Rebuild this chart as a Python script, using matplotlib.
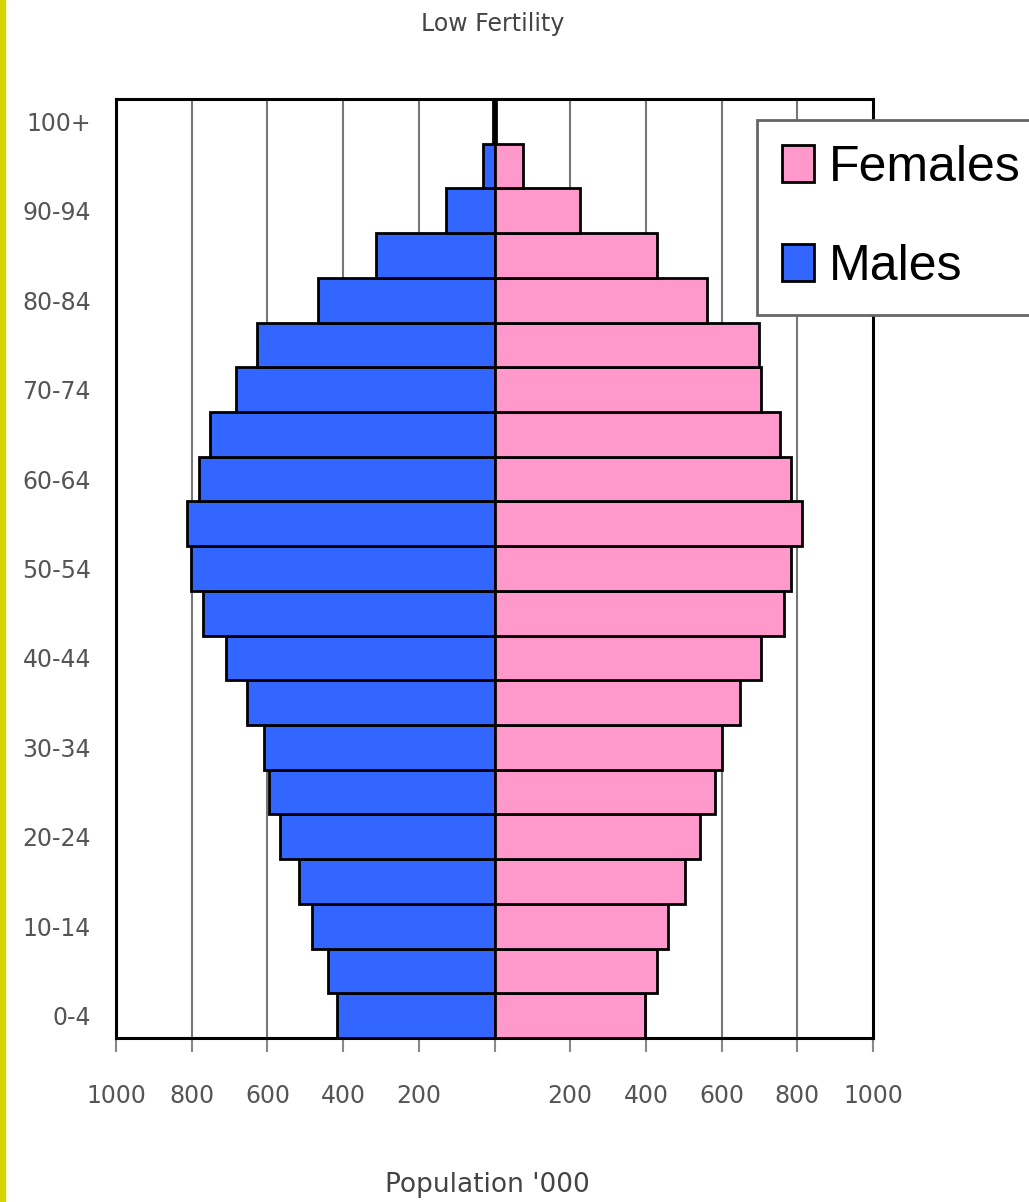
import matplotlib
matplotlib.use("Agg")
import matplotlib.pyplot as plt
from matplotlib.patches import Rectangle, Patch

# age groups, bottom to top
ages = ["0-4", "5-9", "10-14", "15-19", "20-24", "25-29", "30-34", "35-39",
        "40-44", "45-49", "50-54", "55-59", "60-64", "65-69", "70-74",
        "75-79", "80-84", "85-89", "90-94", "95-99", "100+"]

# population in thousands
males = [415, 441, 483, 516, 567, 596, 609, 653, 710, 769, 801, 813,
         781, 752, 684, 628, 466, 313, 128, 30, 5]
females = [398, 429, 458, 502, 544, 583, 601, 648, 705, 764, 784, 813,
           784, 754, 705, 698, 562, 429, 227, 75, 5]

xticks = [-1000, -800, -600, -400, -200, 0, 200, 400, 600, 800, 1000]
xlabels = ["1000", "800", "600", "400", "200", "", "200", "400", "600", "800", "1000"]

male_col = "#3366ff"
female_col = "#ff99cc"
grey = "#555555"

W, H = 1029, 1202
fig = plt.figure(figsize=(W / 100, H / 100), dpi=100)
ax = fig.add_axes([116 / W, 1 - 1038 / H, (873 - 116) / W, (1038 - 99) / H])

y = list(range(len(ages)))
ax.barh(y, [-m for m in males], height=1, color=male_col, edgecolor="black", linewidth=2, zorder=3)
ax.barh(y, females, height=1, color=female_col, edgecolor="black", linewidth=2, zorder=3)

ax.set_xlim(-1000, 1000)
ax.set_ylim(-0.5, len(ages) - 0.5)

# vertical grid lines, skip the centre one
for x in xticks[1:-1]:
    if x != 0:
        ax.axvline(x, color="#777777", linewidth=1.5, zorder=1)

ax.set_xticks(xticks)
ax.set_xticklabels(xlabels)
ax.set_yticks(y[::2])
ax.set_yticklabels(ages[::2])
ax.tick_params(axis="x", length=10, width=1.5, color="#888888", pad=23,
               labelsize=17, labelcolor=grey)
ax.tick_params(axis="y", length=0, pad=18, labelsize=17, labelcolor=grey)

for s in ax.spines.values():
    s.set_linewidth(2.2)
    s.set_color("black")

fig.text(493 / W, 1 - 24 / H, "Low Fertility", ha="center", va="center",
         fontsize=17, color="#444444")
fig.text(487 / W, 1 - 1185 / H, "Population '000", ha="center", va="center",
         fontsize=19, color="#444444")

handles = [Patch(facecolor=female_col, edgecolor="black", linewidth=2),
           Patch(facecolor=male_col, edgecolor="black", linewidth=2)]
leg = fig.legend(handles, ["Females", "Males"], loc="upper left",
                 bbox_to_anchor=(757 / W, 1 - 120 / H), borderaxespad=0,
                 fancybox=False, framealpha=1, edgecolor="#666666",
                 prop={"family": "Liberation Sans", "size": 36},
                 handlelength=0.64, handleheight=0.76, handletextpad=0.3,
                 labelspacing=1.05, borderpad=0.5)
leg.get_frame().set_linewidth(2)

# yellow stripe on the left edge
fig.patches.append(Rectangle((0, 0), 5 / W, 1, transform=fig.transFigure,
                             color="#d4d400", zorder=5))

fig.savefig("out.png", dpi=100)
